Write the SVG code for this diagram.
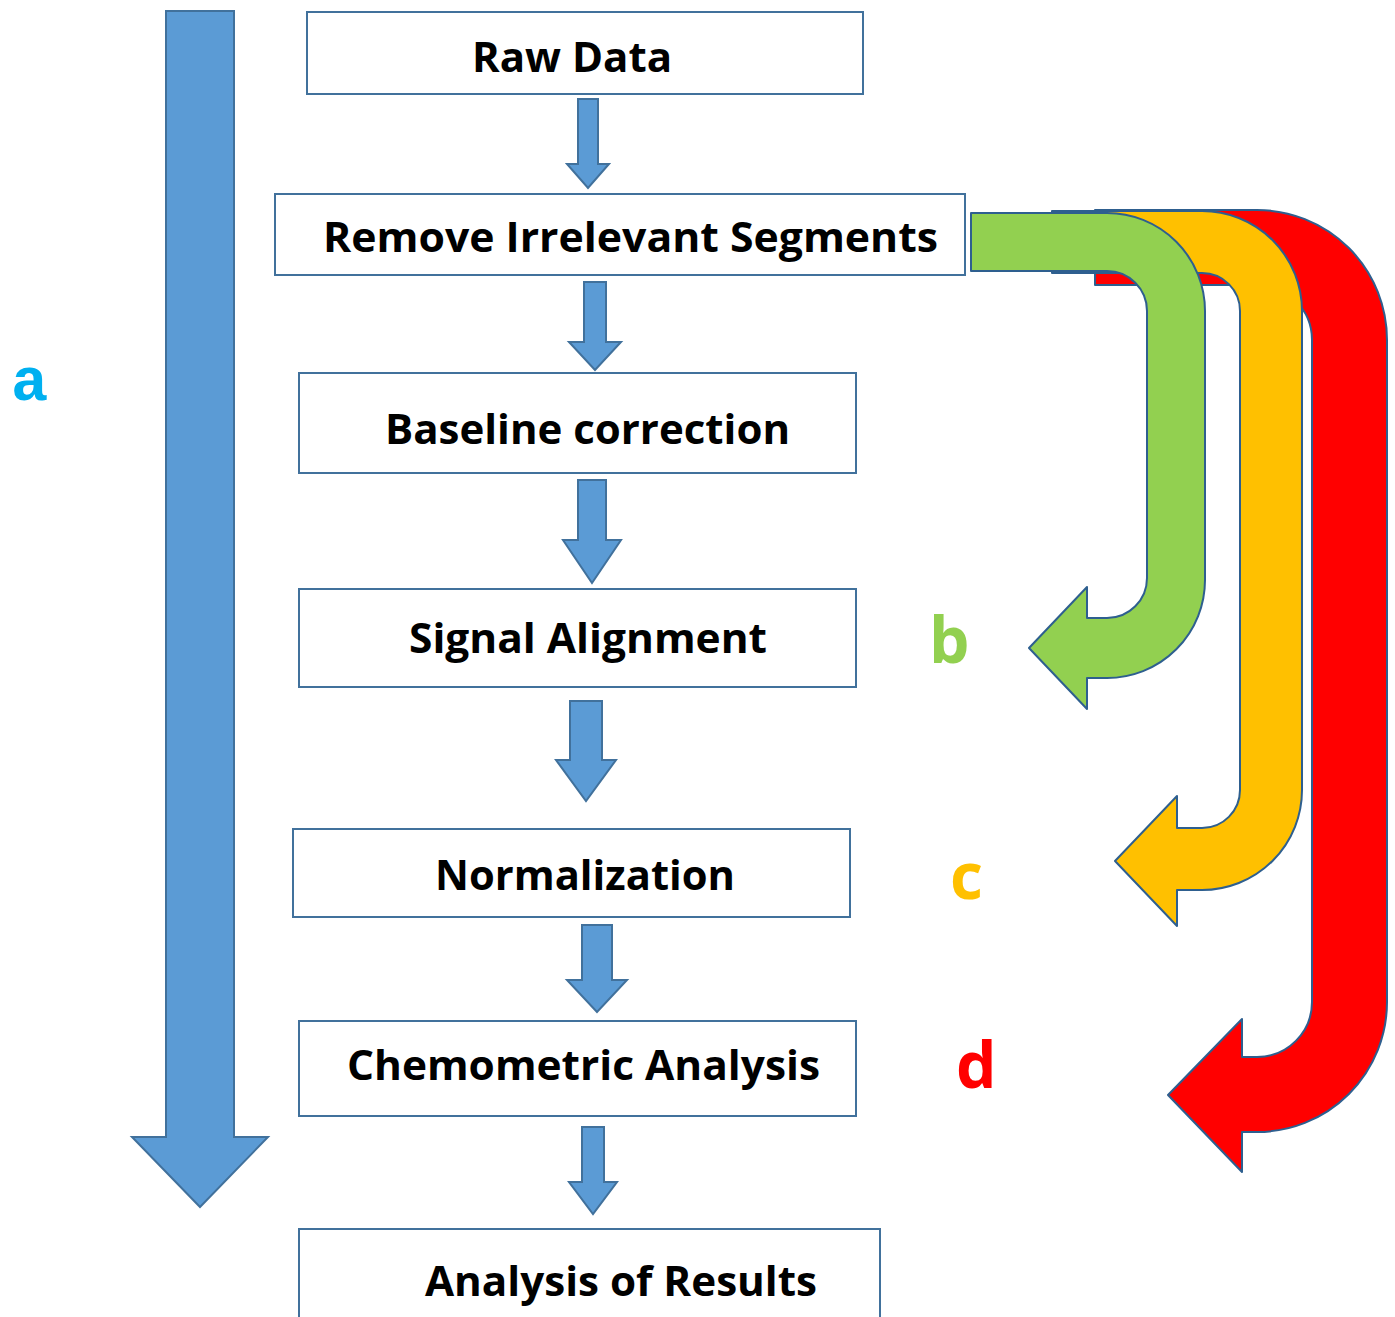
<svg xmlns="http://www.w3.org/2000/svg" width="1395" height="1317" viewBox="0 0 1395 1317">
<style>
.box{fill:#ffffff;stroke:#41719c;stroke-width:2}
.lbl{font-family:"Open Sans","Liberation Sans",sans-serif;font-weight:700;font-size:42px;fill:#000000}
.blue{fill:#5b9bd5;stroke:#41719c;stroke-width:2;stroke-linejoin:miter}
.curve{stroke:#2e5f8f;stroke-width:2;stroke-linejoin:round}
.tag{font-family:"Open Sans","Liberation Sans",sans-serif;font-weight:700;font-size:64px}
</style>
<rect width="1395" height="1317" fill="#ffffff"/>
<g id="main-arrow-a">
<polygon class="blue" points="166,11 234,11 234,1137 268,1137 200,1207 132,1137 166,1137"/>
<text x="11" y="400" style="font-family:'Liberation Mono','DejaVu Sans Mono',monospace;font-weight:700;font-size:62px;fill:#00b0f0">a</text>
</g>
<g id="connectors">
<polygon class="blue" points="578,99 598,99 598,164 609,164 588,188 567,164 578,164"/>
<polygon class="blue" points="584,282 606,282 606,342 621,342 595,370 569,342 584,342"/>
<polygon class="blue" points="578,480 606,480 606,540 621,540 592,583 563,540 578,540"/>
<polygon class="blue" points="570,701 602,701 602,760 616,760 586,801 556,760 570,760"/>
<polygon class="blue" points="582,925 612,925 612,980 627,980 597,1012 567,980 582,980"/>
<polygon class="blue" points="582,1127 604,1127 604,1182 617,1182 593,1214 569,1182 582,1182"/>
</g>
<g id="arrow-d">
<path class="curve" fill="#ff0000" d="M1095,210 L1257,210 A130,130 0 0 1 1387,340 L1387,1002 A130,130 0 0 1 1257,1132 L1242,1132 L1242,1172 L1168,1095 L1242,1019 L1242,1057 L1257,1057 A55,55 0 0 0 1312,1002 L1312,340 A55,55 0 0 0 1257,285 L1095,285 Z"/>
<text class="tag" x="956" y="1088" fill="#ff0000">d</text>
</g>
<g id="arrow-c">
<path class="curve" fill="#ffc000" d="M1052,211 L1202,211 A100,100 0 0 1 1302,311 L1302,790 A100,100 0 0 1 1202,890 L1177,890 L1177,926 L1115,861 L1177,796 L1177,828 L1202,828 A38,38 0 0 0 1240,790 L1240,311 A38,38 0 0 0 1202,273 L1052,273 Z"/>
<text class="tag" x="950" y="899" fill="#ffc000">c</text>
</g>
<g id="arrow-b">
<path class="curve" fill="#92d050" d="M971,213 L1107,213 A98,98 0 0 1 1205,311 L1205,580 A98,98 0 0 1 1107,678 L1087,678 L1087,709 L1029,648 L1087,587 L1087,618 L1107,618 A40,40 0 0 0 1147,578 L1147,311 A40,40 0 0 0 1107,271 L971,271 Z"/>
<text class="tag" x="929" y="663" fill="#92d050">b</text>
</g>
<g id="node-raw-data">
<rect class="box" x="307" y="12" width="556" height="82"/>
<text class="lbl" x="472" y="72" textLength="200" lengthAdjust="spacingAndGlyphs">Raw Data</text>
</g>
<g id="node-remove">
<rect class="box" x="275" y="194" width="690" height="81"/>
<text class="lbl" x="323" y="252" textLength="615" lengthAdjust="spacingAndGlyphs">Remove Irrelevant Segments</text>
</g>
<g id="node-baseline">
<rect class="box" x="299" y="373" width="557" height="100"/>
<text class="lbl" x="385" y="444" textLength="405" lengthAdjust="spacingAndGlyphs">Baseline correction</text>
</g>
<g id="node-signal">
<rect class="box" x="299" y="589" width="557" height="98"/>
<text class="lbl" x="409" y="653" textLength="358" lengthAdjust="spacingAndGlyphs">Signal Alignment</text>
</g>
<g id="node-normalization">
<rect class="box" x="293" y="829" width="557" height="88"/>
<text class="lbl" x="435" y="890" textLength="300" lengthAdjust="spacingAndGlyphs">Normalization</text>
</g>
<g id="node-chemometric">
<rect class="box" x="299" y="1021" width="557" height="95"/>
<text class="lbl" x="347" y="1080" textLength="473" lengthAdjust="spacingAndGlyphs">Chemometric Analysis</text>
</g>
<g id="node-results">
<rect class="box" x="299" y="1229" width="581" height="100"/>
<text class="lbl" x="425" y="1296" textLength="392" lengthAdjust="spacingAndGlyphs">Analysis of Results</text>
</g>
</svg>
